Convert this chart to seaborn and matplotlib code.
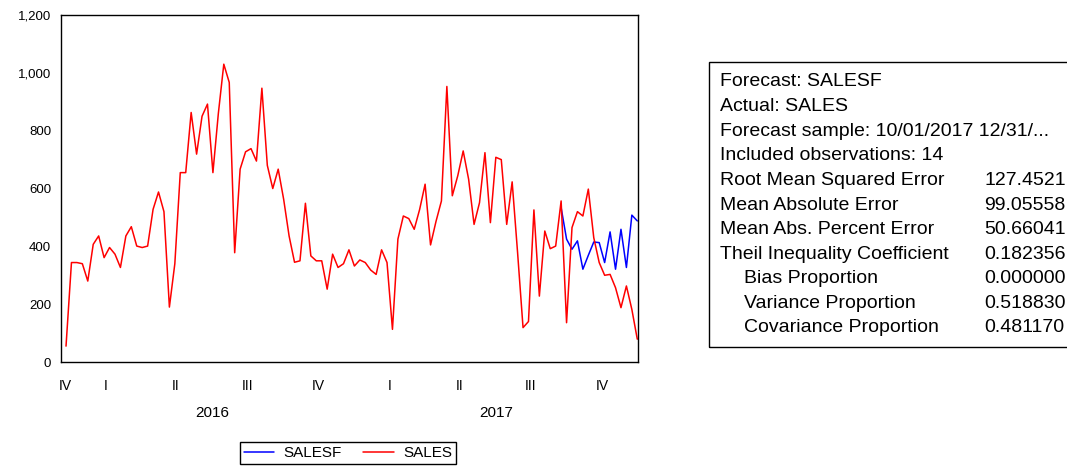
import matplotlib
matplotlib.use("Agg")
import matplotlib.pyplot as plt
import matplotlib.dates as mdates
import matplotlib.transforms as mtransforms
from matplotlib.patches import Rectangle
import seaborn as sns
import pandas as pd

# weekly actual sales, 12/27/2015 .. 12/31/2017
sales = [55, 344, 344, 340, 280, 407, 436, 361, 396, 373,
         327, 436, 468, 401, 396, 401, 528, 588, 520, 190,
         340, 655, 655, 863, 719, 850, 892, 655, 860, 1030,
         967, 378, 667, 727, 738, 695, 947, 680, 600, 667,
         563, 436, 345, 350, 549, 367, 350, 350, 252, 373,
         327, 340, 388, 332, 353, 344, 318, 303, 388, 344,
         113, 425, 505, 496, 459, 528, 615, 405, 486, 557,
         953, 575, 644, 730, 632, 476, 551, 724, 482, 708,
         700, 476, 623, 378, 119, 140, 526, 228, 453, 392,
         401, 557, 136, 465, 520, 505, 598, 430, 344, 300,
         303, 257, 188, 263, 182, 79]

# forecast line (last 15 weeks drawn)
salesf = [534, 425, 390, 419, 321, 369, 415, 413, 344, 450,
          321, 459, 327, 508, 488]

quarter_labels = ["IV", "I", "II", "III", "IV", "I", "II", "III", "IV"]
year_labels = ["2016", "2017"]

stat_names = ["Forecast: SALESF", "Actual: SALES",
              "Forecast sample: 10/01/2017 12/31/...",
              "Included observations: 14",
              "Root Mean Squared Error", "Mean Absolute Error",
              "Mean Abs. Percent Error", "Theil Inequality Coefficient",
              "Bias Proportion", "Variance Proportion",
              "Covariance Proportion"]
stat_indent = [0, 0, 0, 0, 0, 0, 0, 0, 1, 1, 1]
stat_values = ["", "", "", "", "127.4521", "99.05558", "50.66041",
               "0.182356", "0.000000", "0.518830", "0.481170"]

dates = pd.date_range("2015-12-27", periods=len(sales), freq="7D")
actual = pd.DataFrame({"date": dates, "SALES": sales})
forecast = pd.DataFrame({"date": dates[-len(salesf):], "SALESF": salesf})

sns.set_style("white")
plt.rcParams["font.family"] = ["Liberation Sans", "DejaVu Sans"]
plt.rcParams["text.color"] = "black"
plt.rcParams["xtick.labelcolor"] = "black"
plt.rcParams["ytick.labelcolor"] = "black"

fig = plt.figure(figsize=(10.67, 4.67), dpi=100)
ax = fig.add_axes([0.0572, 0.2248, 0.5408, 0.743])

sns.lineplot(data=forecast, x="date", y="SALESF", color="#0000ff",
             lw=1.1, ax=ax, label="SALESF")
sns.lineplot(data=actual, x="date", y="SALES", color="#ff0000",
             lw=1.1, ax=ax, label="SALES")

# x axis: quarter boundaries as ticks, roman numerals at quarter centres
left = mdates.date2num(pd.Timestamp("2015-12-20 14:00"))
right = mdates.date2num(pd.Timestamp("2018-01-01"))
bounds = [mdates.date2num(d) for d in pd.date_range("2016-01-01", "2018-01-01", freq="QS")]
ax.set_xlim(left, right)
edges = [left] + bounds
mids = [(a + b) / 2 for a, b in zip(edges[:-1], edges[1:])]
ax.set_xticks(bounds)
ax.set_xticklabels([])
ax.set_xticks(mids, minor=True)
ax.set_xticklabels(quarter_labels, minor=True)
ax.tick_params(axis="x", which="major", direction="out", length=5, width=1, color="black")
ax.tick_params(axis="x", which="minor", length=0, pad=12, labelsize=10)

trans = mtransforms.blended_transform_factory(ax.transData, ax.transAxes)
for k, yr in enumerate(year_labels):
    xc = (bounds[4 * k] + bounds[4 * k + 4]) / 2
    ax.text(xc, -0.148, yr, transform=trans, ha="center", va="center", fontsize=11)

ax.set_ylim(0, 1200)
ax.set_yticks(range(0, 1201, 200))
ax.set_yticklabels([f"{v:,}" for v in range(0, 1201, 200)])
ax.tick_params(axis="y", direction="out", length=5, width=1, color="black",
               labelsize=9.5, pad=2)
ax.set_xlabel("")
ax.set_ylabel("")
for sp in ax.spines.values():
    sp.set_visible(True)
    sp.set_color("black")
    sp.set_linewidth(1)

handles, labels = ax.get_legend_handles_labels()
ax.get_legend().remove()
fig.legend(handles, labels, loc="center", bbox_to_anchor=(0.326, 0.030), ncol=2,
           frameon=True, fancybox=False, edgecolor="black", fontsize=11,
           handlelength=2.0, handletextpad=0.6, columnspacing=1.4,
           borderpad=0.25, framealpha=1)
fig.legends[0].get_frame().set_linewidth(1)

# statistics box
box = Rectangle((709 / 1067, 120 / 467), 0.4, 285 / 467, transform=fig.transFigure,
                fill=False, edgecolor="black", lw=1, clip_on=False)
fig.patches.append(box)
for k, (name, val) in enumerate(zip(stat_names, stat_values)):
    yc = 1 - (82 + k * 24.6) / 467
    fig.text((720 + 24 * stat_indent[k]) / 1067, yc, name, ha="left", va="center",
             fontsize=14)
    if val:
        fig.text(984 / 1067, yc, val, ha="left", va="center", fontsize=14)

fig.savefig("out.png", dpi=100)
